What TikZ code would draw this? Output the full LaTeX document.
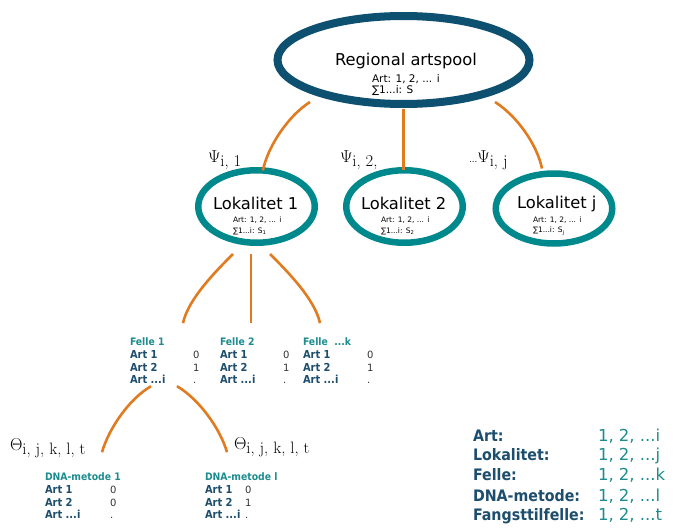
\documentclass[tikz,border=0pt]{standalone}
\usepackage{fontspec}
\newfontfamily\vf{DejaVu Sans}
\newfontfamily\vfc{DejaVu Sans}[FakeStretch=0.9]
\usetikzlibrary{shapes.geometric,calc}
\definecolor{rblue}{HTML}{0E5070}
\definecolor{lteal}{HTML}{00898C}
\definecolor{orng}{HTML}{E07B20}
\definecolor{tblue}{HTML}{1D4E6E}
\definecolor{tteal}{HTML}{1C8C8F}
\definecolor{vgray}{HTML}{333333}
\newcommand{\greeklab}[2]{{\fontsize{18}{18}\selectfont$#1$}\raisebox{-4.5pt}{\fontsize{16.5}{16.5}\selectfont #2}}
\newcommand{\arttable}[6]{%
  \node[ttl] (#1) at (#2,#3) {#4};
  \node[artl] at (#2,#3+13) {Art 1};
  \node[artl] at (#2,#3+26) {Art 2};
  \node[artl] at (#2,#3+38.5) {Art ...i};
  \node[valt] at (#2+#5,#3+13) {#6};
}
\newcommand{\valtwo}[3]{%
  \node[valt] at (#1,#2+26) {#3};
  \node[valt] at (#1,#2+38.5) {.};
}
\begin{document}
\begin{tikzpicture}[x=1pt,y=-1pt,every node/.style={inner sep=0pt,outer sep=0pt},
  region/.style={ellipse,draw=rblue,line width=8pt,minimum width=252pt,minimum height=88pt},
  lok/.style={ellipse,draw=lteal,line width=6.5pt,minimum width=116.5pt,minimum height=72.5pt},
  conn/.style={draw=orng,line width=2.6pt},
  bigt/.style={anchor=base west,font=\vf\fontsize{16.3}{19}\selectfont,text=black},
  lokt/.style={anchor=base west,font=\vf\fontsize{16.3}{18}\selectfont,text=black},
  smallt/.style={anchor=base west,font=\vf\fontsize{10.5}{12}\selectfont,text=black},
  tinyt/.style={anchor=base west,font=\vf\fontsize{7.5}{8}\selectfont,text=black},
  glab/.style={anchor=base west,text=black},
  ttl/.style={anchor=base west,font=\vfc\bfseries\fontsize{10.3}{11}\selectfont,text=tteal},
  artl/.style={anchor=base west,font=\vfc\bfseries\fontsize{11}{11}\selectfont,text=tblue},
  valt/.style={anchor=base west,font=\vf\fontsize{10}{11}\selectfont,text=vgray},
  legl/.style={anchor=base west,font=\vfc\bfseries\fontsize{15.8}{17}\selectfont,text=tblue},
  legv/.style={anchor=base west,font=\vf\fontsize{16.5}{19}\selectfont,text=tteal}]
\useasboundingbox[fill=white] (0,0) rectangle (674,527);

% ellipses
\node[region] (top) at (403.5,60) {};
\node[lok] (l1) at (256.5,206.5) {};
\node[lok] (l2) at (404.5,206.5) {};
\node[lok,minimum height=70pt] (lj) at (554,208.5) {};

% texts in ellipses
\node[bigt] (toptxt) at (335,65) {Regional artspool};
\node[smallt] (topa) at (372,82) {Art: 1, 2, ... i};
\node[smallt] (tops) at (372,93.5) {∑1...i: S};

\node[lokt] (l1t) at (213,209) {Lokalitet 1};
\node[tinyt] (l1a) at (233,222.5) {Art: 1, 2, ... i};
\node[tinyt] (l1s) at (233,233) {∑1...i: S\textsubscript{1}};
\node[lokt] (l2t) at (361,209) {Lokalitet 2};
\node[tinyt] (l2a) at (381,222.5) {Art: 1, 2, ... i};
\node[tinyt] (l2s) at (381,233) {∑1...i: S\textsubscript{2}};
\node[lokt] (ljt) at (517,208) {Lokalitet j};
\node[tinyt] (lja) at (533,222) {Art: 1, 2, ... i};
\node[tinyt] (ljs) at (533,232.5) {∑1...i: S\textsubscript{j}};

% connectors top -> localities
\draw[conn] ($(top.center)+(-93.5,42)$) .. controls +(-22,14) and +(5,-24) .. (l1.80);
\draw[conn] (top.south) ++(0,5) -- (top.south |- l2.north);
\draw[conn] ($(top.center)+(91.5,42)$) .. controls +(22,14) and +(-5,-24) .. ($(lj.north)+(-12,-5)$);

% psi labels
\node[glab] (psi1) at (208,162) {\greeklab{\Psi}{i, 1}};
\node[glab] (psi2) at (340,162) {\greeklab{\Psi}{i, 2,}};
\node[glab] (psij) at (469,162) {...\greeklab{\Psi}{i, j}};

% traps
\arttable{f1}{130}{345}{Felle 1}{63}{0}
\valtwo{193}{345}{1}
\arttable{f2}{220}{345}{Felle 2}{63}{0}
\valtwo{283}{345}{1}
\arttable{fk}{303}{345}{Felle\ \ ...k}{64}{0}
\valtwo{367}{345}{1}

% connectors locality 1 -> traps
\draw[conn] ($(l1.center)+(-23.5,47.5)$) .. controls +(-17,17) and +(5,-24) .. ($(f1.north west)+(53,-14)$);
\draw[conn] ($(l1.center)+(-5.5,47.5)$) -- ($(f2.north west)+(31,-14)$);
\draw[conn] ($(l1.center)+(13.5,47.5)$) .. controls +(17,17) and +(-5,-24) .. ($(fk.north west)+(17,-14)$);

% DNA methods
\arttable{d1}{45}{480}{DNA-metode 1}{65}{0}
\valtwo{110}{480}{0}
\arttable{dl}{205}{480}{DNA-metode l}{40}{0}
\valtwo{245}{480}{1}

% connectors trap 1 -> methods
\draw[conn] ($(f1.north west)+(21,49)$) .. controls +(-22,13) and +(7,-24) .. ($(d1.north west)+(57,-20)$);
\draw[conn] ($(f1.north west)+(47,49)$) .. controls +(22,13) and +(-7,-24) .. ($(dl.north west)+(22,-20)$);

% theta labels
\node[glab] (th1) at (10,450) {\greeklab{\Theta}{i, j, k, l, t}};
\node[glab] (th2) at (234,449) {\greeklab{\Theta}{i, j, k, l, t}};

% legend
\node[legl] (lg1) at (473,441) {Art:};
\node[legl] (lg2) at (473,460.5) {Lokalitet:};
\node[legl] (lg3) at (473,480) {Felle:};
\node[legl] (lg4) at (473,501) {DNA-metode:};
\node[legl] (lg5) at (473,520) {Fangsttilfelle:};
\node[legv] (lv1) at (598,441) {1, 2, ...i};
\node[legv] (lv2) at (598,460.5) {1, 2, ...j};
\node[legv] (lv3) at (598,480) {1, 2, ...k};
\node[legv] (lv4) at (598,501) {1, 2, ...l};
\node[legv] (lv5) at (598,520) {1, 2, ...t};
\end{tikzpicture}
\end{document}
